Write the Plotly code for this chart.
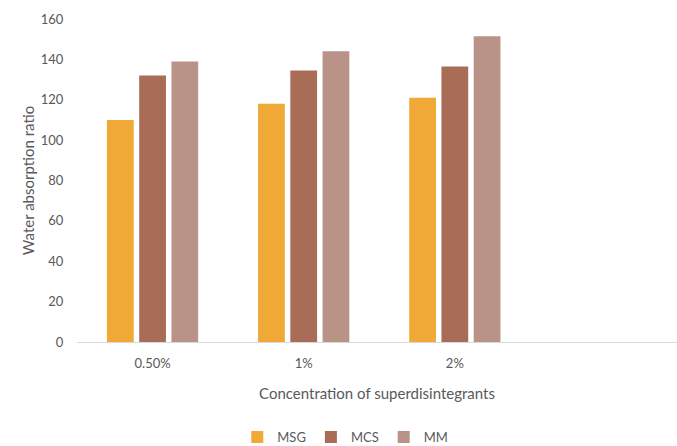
import plotly.graph_objects as go

categories = ["0.50%", "1%", "2%"]
all_slots = ["0.50%", "1%", "2%", " "]
msg = [110, 118, 121]
mcs = [132, 134.5, 136.5]
mm = [139, 144, 151.5]

series = [("MSG", msg, "#F0A836"), ("MCS", mcs, "#A96C57"), ("MM", mm, "#BA9388")]

fig = go.Figure()
for name, vals, col in series:
    fig.add_trace(go.Bar(x=categories, y=vals, name=name, marker=dict(color=col, line=dict(width=0))))

font_family = "Lato, Open Sans, sans-serif"
fig.update_layout(
    width=677, height=446,
    margin=dict(l=77, r=0, t=19, b=104),
    paper_bgcolor="white", plot_bgcolor="white",
    barmode="group", bargap=0.36, bargroupgap=0.17,
    font=dict(family=font_family, color="#595959", size=13),
    showlegend=True,
    legend=dict(orientation="h", xref="container", yref="container", x=0.51, y=0.02,
                xanchor="center", yanchor="middle", font=dict(size=13, color="#595959"),
                itemwidth=30, tracegroupgap=0),
    xaxis=dict(type="category", categoryorder="array", categoryarray=all_slots,
               range=[-0.5, 3.47], showline=True, linecolor="#D9D9D9", linewidth=1,
               showgrid=False, zeroline=False, ticks="outside", ticklen=9, tickcolor="rgba(0,0,0,0)",
               tickfont=dict(size=13, color="#595959"),
               title=dict(text="Concentration of superdisintegrants", font=dict(size=15, color="#595959"), standoff=18)),
    yaxis=dict(range=[0, 160], tickvals=[0, 20, 40, 60, 80, 100, 120, 140, 160], showgrid=False,
               zeroline=False, showline=False, ticks="outside", ticklen=10, tickcolor="rgba(0,0,0,0)",
               tickfont=dict(size=13, color="#595959"),
               title=dict(text="Water absorption ratio", font=dict(size=15, color="#595959"), standoff=2)),
)
fig.write_html("out.html")
